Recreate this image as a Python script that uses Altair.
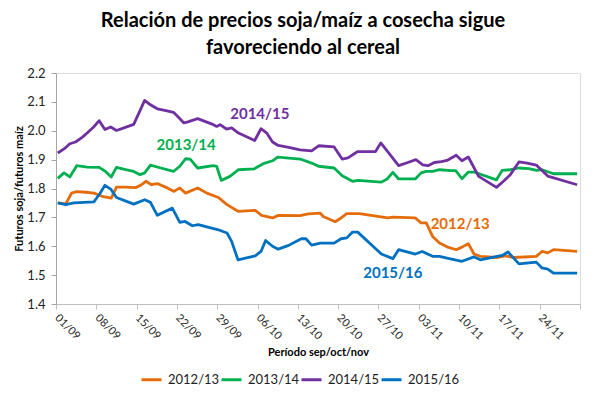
import json
import altair as alt
import pandas as pd

# ---------------- data ----------------
series_names = ["2012/13", "2013/14", "2014/15", "2015/16"]
series_colors = ["#E46C0A", "#00B050", "#7030A0", "#0070C0"]

# day offset from 01/09 and soja/maíz ratio
days_1213 = [0.3, 1.7, 2.7, 3.6, 5.2, 6.6, 8.0, 9.6, 10.5, 12.1, 13.8, 14.7, 15.6, 16.6, 17.6,
             19.1, 20.5, 21.5, 22.5, 24.6, 26.2, 28.2, 29.7, 31.6, 34.6, 35.7, 37.6, 38.6, 42.4,
             43.8, 45.9, 46.4, 48.5, 49.5, 50.5, 52.7, 57.6, 58.5, 62.4, 63.4, 64.3, 65.4, 66.6,
             67.9, 69.5, 70.5, 71.6, 72.6, 73.7, 76.5, 78.0, 79.5, 83.4, 84.4, 85.4, 86.4, 90.5]
vals_1213 = [1.750, 1.747, 1.784, 1.789, 1.787, 1.784, 1.773, 1.767, 1.805, 1.805, 1.803, 1.811, 1.825, 1.813, 1.817,
             1.804, 1.790, 1.802, 1.784, 1.802, 1.784, 1.769, 1.744, 1.721, 1.724, 1.707, 1.698, 1.707, 1.706,
             1.712, 1.715, 1.703, 1.685, 1.698, 1.713, 1.713, 1.698, 1.701, 1.698, 1.681, 1.681, 1.634, 1.611,
             1.598, 1.588, 1.597, 1.609, 1.573, 1.565, 1.561, 1.567, 1.561, 1.565, 1.582, 1.577, 1.588, 1.582]

days_1314 = [0.3, 1.4, 2.4, 3.6, 5.4, 7.5, 8.6, 9.6, 10.5, 12.1, 13.5, 14.6, 15.4, 16.4, 18.2,
             20.4, 21.5, 22.5, 23.3, 24.6, 27.3, 27.9, 28.7, 30.2, 31.7, 34.4, 36.0, 37.6, 38.5,
             42.4, 44.4, 45.6, 48.3, 49.7, 51.5, 52.4, 56.5, 57.5, 58.5, 59.5, 62.4, 63.4, 64.3,
             65.4, 66.6, 68.6, 69.4, 70.5, 71.6, 72.6, 76.5, 77.5, 78.9, 80.4, 82.1, 83.5, 84.4,
             86.4, 90.5]
vals_1314 = [1.835, 1.854, 1.840, 1.879, 1.874, 1.873, 1.859, 1.840, 1.873, 1.865, 1.859, 1.848, 1.854, 1.881, 1.871,
             1.859, 1.877, 1.903, 1.902, 1.871, 1.879, 1.877, 1.828, 1.842, 1.865, 1.868, 1.886, 1.896, 1.909,
             1.902, 1.888, 1.877, 1.871, 1.844, 1.825, 1.828, 1.822, 1.833, 1.856, 1.833, 1.833, 1.854, 1.859,
             1.859, 1.865, 1.862, 1.862, 1.834, 1.857, 1.857, 1.830, 1.863, 1.865, 1.871, 1.869, 1.863, 1.865,
             1.851, 1.851]

days_1415 = [0.3, 1.4, 2.4, 3.4, 4.6, 5.4, 6.5, 7.5, 8.5, 9.5, 10.5, 11.8, 13.5, 15.4, 16.4,
             17.6, 19.1, 20.4, 21.4, 22.2, 22.9, 24.6, 27.1, 27.9, 28.5, 29.6, 30.5, 31.7, 34.5,
             35.6, 36.6, 37.6, 38.6, 40.4, 42.4, 44.4, 45.6, 48.3, 49.7, 50.7, 52.4, 55.5, 56.4,
             57.6, 59.5, 61.1, 62.5, 63.7, 64.6, 65.7, 66.9, 67.9, 69.5, 70.5, 71.6, 73.4, 76.5,
             77.8, 78.9, 80.4, 81.8, 83.4, 85.4, 90.5]
vals_1415 = [1.923, 1.937, 1.955, 1.961, 1.978, 1.992, 2.012, 2.035, 2.004, 2.013, 2.001, 2.010, 2.022, 2.105, 2.090,
             2.076, 2.070, 2.064, 2.044, 2.027, 2.031, 2.042, 2.023, 2.015, 2.021, 2.006, 2.010, 1.992, 1.966,
             2.007, 1.992, 1.961, 1.949, 1.942, 1.934, 1.930, 1.948, 1.944, 1.902, 1.906, 1.928, 1.928, 1.958,
             1.928, 1.879, 1.890, 1.900, 1.882, 1.879, 1.890, 1.893, 1.897, 1.915, 1.896, 1.909, 1.842, 1.804,
             1.827, 1.848, 1.892, 1.888, 1.881, 1.843, 1.813]

days_1516 = [0.3, 1.7, 3.1, 6.6, 7.6, 8.5, 9.5, 10.5, 13.5, 15.4, 16.4, 17.6, 20.2, 21.5, 22.4,
             23.7, 24.7, 28.2, 29.7, 30.5, 31.6, 34.6, 35.6, 36.4, 37.6, 38.6, 40.4, 42.6, 43.4,
             44.4, 45.9, 48.3, 49.5, 50.5, 51.5, 52.4, 56.5, 58.5, 59.5, 62.4, 63.6, 65.4, 66.6,
             67.9, 70.5, 72.6, 73.7, 76.6, 77.5, 78.5, 80.4, 83.4, 84.4, 85.4, 86.4, 90.5]
vals_1516 = [1.750, 1.744, 1.750, 1.754, 1.782, 1.811, 1.798, 1.769, 1.746, 1.761, 1.752, 1.707, 1.732, 1.683, 1.686,
             1.671, 1.675, 1.657, 1.646, 1.617, 1.553, 1.567, 1.582, 1.620, 1.600, 1.590, 1.603, 1.626, 1.626,
             1.604, 1.611, 1.611, 1.626, 1.629, 1.649, 1.649, 1.573, 1.557, 1.588, 1.573, 1.582, 1.565, 1.565,
             1.559, 1.548, 1.563, 1.553, 1.565, 1.568, 1.580, 1.539, 1.545, 1.525, 1.521, 1.507, 1.507]

tick_days = [0, 7, 14, 21, 28, 35, 42, 49, 56, 63, 70, 77, 84, 91]
tick_labels = ["01/09", "08/09", "15/09", "22/09", "29/09", "06/10", "13/10",
               "20/10", "27/10", "03/11", "10/11", "17/11", "24/11", ""]
y_ticks = [1.4, 1.5, 1.6, 1.7, 1.8, 1.9, 2.0, 2.1, 2.2]

ann_series = ["2014/15", "2013/14", "2012/13", "2015/16"]
ann_day = [35.4, 22.6, 70.2, 58.5]
ann_val = [2.059, 1.952, 1.678, 1.508]

title_lines = ["Relación de precios soja/maíz a cosecha sigue", "favoreciendo al cereal"]

# ---------------- tables ----------------
rows = []
for name, ds, vs in [("2012/13", days_1213, vals_1213), ("2013/14", days_1314, vals_1314),
                     ("2014/15", days_1415, vals_1415), ("2015/16", days_1516, vals_1516)]:
    for d, v in zip(ds, vs):
        rows.append({"series": name, "day": d, "value": v, "order": series_names.index(name)})
df = pd.DataFrame(rows)
ann = pd.DataFrame({"series": ann_series, "day": ann_day, "value": ann_val})

FONT = "Lato"
label_map = {str(d): l for d, l in zip(tick_days, tick_labels)}
label_expr = json.dumps(label_map) + "[toString(datum.value)]"

color_scale = alt.Scale(domain=series_names, range=series_colors)
x_scale = alt.Scale(domain=[0, 91], nice=False, zero=False)
y_scale = alt.Scale(domain=[1.4, 2.2], nice=False, zero=False)

x_axis = alt.Axis(
    values=tick_days, labelExpr=label_expr, labelAngle=45, labelAlign="left",
    labelBaseline="middle", labelPadding=7, labelFontSize=11, labelFont=FONT,
    labelColor="#222222", tickSize=5, tickColor="#BFBFBF", domainColor="#BFBFBF",
    grid=False, title="Período sep/oct/nov", titleFont=FONT, titleFontSize=11,
    titleFontWeight="bold", titleX=262, titleY=48, titleBaseline="middle",
    titleColor="#000000", labelOverlap=False,
)
y_axis = alt.Axis(
    values=y_ticks, format=".1f", labelFontSize=13, labelFont=FONT, labelColor="#222222",
    labelPadding=6, tickSize=5, tickColor="#A6A6A6", domainColor="#A6A6A6", grid=False,
    labelOverlap=False, labelSeparation=0,
    title="Futuros soja/futuros maíz", titleFont=FONT, titleFontSize=11, titleFontWeight="bold",
    titleX=-37, titleY=115.5, titleAngle=-90, titleAlign="center", titleBaseline="middle",
    titleColor="#000000",
)

lines = alt.Chart(df).mark_line(strokeWidth=2.8, strokeJoin="round").encode(
    x=alt.X("day:Q", scale=x_scale, axis=x_axis),
    y=alt.Y("value:Q", scale=y_scale, axis=y_axis),
    color=alt.Color(
        "series:N", scale=color_scale,
        legend=alt.Legend(
            title=None, orient="none", legendX=84, legendY=295, direction="horizontal",
            symbolType="stroke", symbolSize=400, symbolStrokeWidth=3, labelFont=FONT,
            labelFontSize=13, labelColor="#222222", columnPadding=-6, labelOffset=5,
        ),
    ),
    order="order:Q",
)

labels = alt.Chart(ann).mark_text(font=FONT, fontSize=15, fontWeight="bold").encode(
    x=alt.X("day:Q", scale=x_scale, axis=x_axis),
    y=alt.Y("value:Q", scale=y_scale, axis=y_axis),
    text="series:N",
    color=alt.Color("series:N", scale=color_scale, legend=None),
)

chart = alt.layer(lines, labels).properties(
    width=524,
    height=231,
    title=alt.Title(
        text=title_lines, font=FONT, fontSize=20, fontWeight="bold", color="#000000",
        anchor="middle", dx=-15, offset=9, lineHeight=27,
    ),
    autosize=alt.AutoSizeParams(type="none"),
    padding={"left": 48, "top": 65, "right": 18, "bottom": 84},
).configure_view(stroke=None).configure_axis(labelOverlap=False).configure(background="white")

chart.save("out.html", embed_options={"renderer": "svg", "actions": False})
